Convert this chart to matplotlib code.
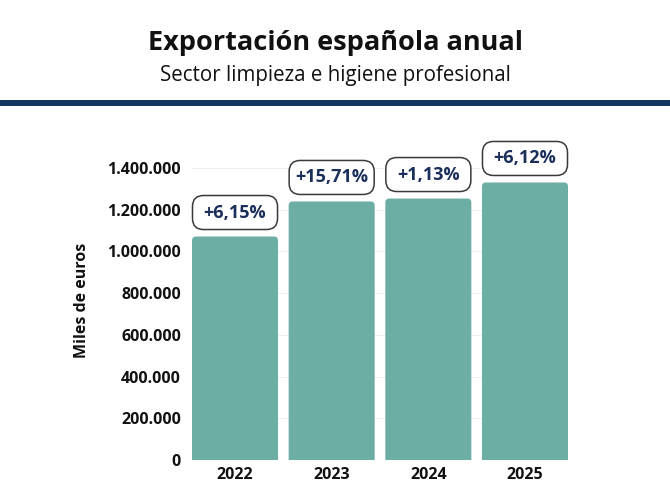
import matplotlib

matplotlib.use("Agg")
import matplotlib.pyplot as plt
from matplotlib.patches import FancyBboxPatch, Rectangle
from matplotlib.ticker import FuncFormatter

plt.rcParams["font.family"] = ["Open Sans", "DejaVu Sans"]

# Data (miles de euros)
years = ["2022", "2023", "2024", "2025"]
exports = [1071000, 1239000, 1253000, 1330000]
growth_labels = ["+6,15%", "+15,71%", "+1,13%", "+6,12%"]
yticks = [0, 200000, 400000, 600000, 800000, 1000000, 1200000, 1400000]

BAR_COLOR = "#6daea4"
NAVY = "#14375f"
LABEL_COLOR = "#1b2f5b"

W, H = 670, 491
fig = plt.figure(figsize=(W / 100, H / 100), dpi=100)

# axes placed in pixels so the label boxes can be sized in pixels too
ax_left, ax_right, ax_bottom, ax_top = 192, 568, 460, 147
ax = fig.add_axes([ax_left / W, (H - ax_bottom) / H,
                   (ax_right - ax_left) / W, (ax_bottom - ax_top) / H])

bar_width = 0.89
xlim = (-bar_width / 2, len(years) - 1 + bar_width / 2)
ylim = (0, 1500000)
ax.set_xlim(*xlim)
ax.set_ylim(*ylim)

# units per pixel, used for rounding and offsets
x_per_px = (xlim[1] - xlim[0]) / (ax_right - ax_left)
y_per_px = (ylim[1] - ylim[0]) / (ax_bottom - ax_top)
aspect = y_per_px / x_per_px

bars = ax.bar(range(len(years)), exports, width=bar_width, color=BAR_COLOR)

for bar, label in zip(bars, growth_labels):
    x0, w, h = bar.get_x(), bar.get_width(), bar.get_height()
    bar.set_visible(False)
    # bar with rounded top corners (bottom part clipped by the axes)
    ax.add_patch(FancyBboxPatch(
        (x0, -20 * y_per_px), w, h + 20 * y_per_px,
        boxstyle=f"round,pad=0,rounding_size={4 * x_per_px}",
        mutation_aspect=aspect, facecolor=BAR_COLOR, edgecolor="none",
        zorder=2))
    # growth label box above each bar
    box_y = h + 7 * y_per_px
    box_h = 34 * y_per_px
    ax.add_patch(FancyBboxPatch(
        (x0 + 0.5 * x_per_px, box_y), w - 1 * x_per_px, box_h,
        boxstyle=f"round,pad=0,rounding_size={11 * x_per_px}",
        mutation_aspect=aspect, facecolor="white", edgecolor="#3a3a3a",
        linewidth=1.1, zorder=3, clip_on=False))
    ax.text(x0 + w / 2, box_y + box_h / 2, label, ha="center", va="center",
            fontsize=13, fontweight="bold", color=LABEL_COLOR, zorder=4,
            clip_on=False)

ax.set_yticks(yticks)
ax.yaxis.set_major_formatter(FuncFormatter(lambda v, _: f"{int(v):,}".replace(",", ".")))
ax.set_xticks(range(len(years)))
ax.set_xticklabels(years)
ax.tick_params(axis="both", length=0, labelsize=11.5, colors="#111111")
ax.tick_params(axis="y", pad=8)
ax.tick_params(axis="x", pad=5)
for lbl in ax.get_xticklabels() + ax.get_yticklabels():
    lbl.set_fontweight("bold")

ax.grid(axis="y", color="#f0f0f0", linewidth=0.8, zorder=0)
ax.set_axisbelow(True)
for spine in ax.spines.values():
    spine.set_visible(False)

fig.text(82 / W, 1 - 300 / H, "Miles de euros", rotation=90, ha="center",
         va="center", fontsize=11.5, fontweight="bold", color="#111111")

fig.text(0.5, 1 - 43 / H, "Exportación española anual", ha="center",
         va="center", fontsize=19.5, fontweight="bold", color="#111111")
fig.text(0.5, 1 - 76 / H, "Sector limpieza e higiene profesional",
         ha="center", va="center", fontsize=14.8, color="#111111")

# dark band under the header
fig.patches.append(Rectangle((0, 1 - 106 / H), 1, 6 / H, transform=fig.transFigure,
                             facecolor=NAVY, edgecolor="none"))

fig.savefig("out.png", dpi=100)
